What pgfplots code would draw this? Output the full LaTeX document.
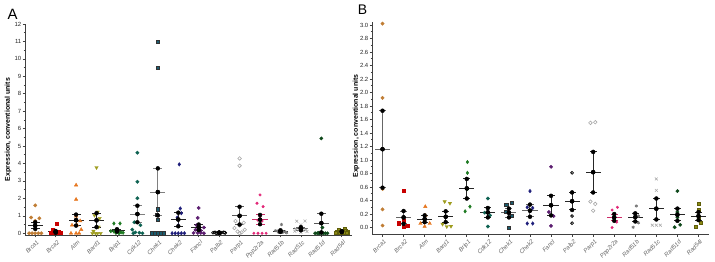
\documentclass[border=0pt]{standalone}
\usepackage{pgfplots}
\pgfplotsset{compat=1.18}
\usepackage{pgfplotstable}
\usepackage{fontspec}
\setmainfont{Liberation Sans}

% marker colours, one per gene
\definecolor{cBrcaI}{RGB}{192,125,52}
\definecolor{cBrcaII}{RGB}{200,0,0}
\definecolor{cAtm}{RGB}{230,118,30}
\definecolor{cBard}{RGB}{158,156,30}
\definecolor{cBrip}{RGB}{30,122,34}
\definecolor{cCdk}{RGB}{14,98,82}
\definecolor{cChekI}{RGB}{28,92,110}
\definecolor{cChekII}{RGB}{30,30,122}
\definecolor{cFanc}{RGB}{92,30,112}
\definecolor{cParp}{RGB}{168,168,168}
\definecolor{cPpp}{RGB}{226,40,120}
\definecolor{cRadB}{RGB}{120,120,120}
\definecolor{cRadC}{RGB}{172,172,172}
\definecolor{cRadD}{RGB}{14,72,26}
\definecolor{cRadL}{RGB}{140,138,20}
\definecolor{cRadLd}{RGB}{95,94,10}
\definecolor{cPink}{RGB}{205,45,105}

% mean and SEM per gene: x, mean, lower end, upper end
\pgfplotstableread{
x m lo hi
0 0.44 0.25 0.63
1 0.08 0.03 0.13
2 0.75 0.44 1.07
3 0.74 0.35 1.15
4 0.17 0.10 0.23
7 0.79 0.40 1.18
8 0.34 0.18 0.50
9 0.03 0.02 0.04
12 0.12 0.08 0.17
15 0.09 0.06 0.12
}\semAk
\pgfplotstableread{
x m lo hi
5 1.10 0.63 1.58
6 2.36 1.02 3.72
}\semAg
\pgfplotstableread{
x m lo hi
10 1.00 0.50 1.52
13 0.27 0.17 0.35
14 0.58 0.05 1.12
}\semAd
\pgfplotstableread{
x m lo hi
11 0.78 0.52 1.05
}\semAp

\pgfplotstableread{
x m lo hi
2 0.125 0.08 0.18
3 0.16 0.08 0.24
4 0.58 0.43 0.72
5 0.225 0.15 0.29
8 0.33 0.18 0.47
9 0.39 0.26 0.52
10 0.82 0.52 1.12
12 0.155 0.09 0.21
13 0.28 0.12 0.43
14 0.19 0.10 0.28
15 0.17 0.11 0.23
}\semBk
\pgfplotstableread{
x m lo hi
0 1.16 0.59 1.73
1 0.15 0.055 0.245
6 0.22 0.15 0.28
7 0.25 0.16 0.34
}\semBg
\pgfplotstableread{
x m lo hi
11 0.15 0.10 0.20
}\semBp

% mean line, SEM caps and SEM stem for every row of a table
\newcommand{\meansem}[4]{% table, colour, mean half-width, cap half-width
  \addplot[only marks, mark=none, forget plot,
    error bars/.cd, x dir=both, x fixed=#3, error mark=none,
    error bar style={draw=#2, line width=1pt}] table[x=x, y=m] {#1};
  \addplot[only marks, mark=none, forget plot,
    error bars/.cd, x dir=both, x fixed=#4, error mark=none,
    error bar style={draw=#2, line width=1pt}] table[x=x, y=hi] {#1};
  \addplot[only marks, mark=none, forget plot,
    error bars/.cd, x dir=both, x fixed=#4, error mark=none,
    error bar style={draw=#2, line width=1pt}] table[x=x, y=lo] {#1};
  \addplot[only marks, mark=none, forget plot,
    error bars/.cd, y dir=both, y explicit, error mark=none,
    error bar style={draw=#2, line width=1pt}]
    table[x=x, y=m, y error plus expr=\thisrow{hi}-\thisrow{m},
          y error minus expr=\thisrow{m}-\thisrow{lo}] {#1};
}

\pgfplotsset{
  dotplot/.style={
    scale only axis,
    anchor=south west,
    xmin=-0.5, xmax=15.5,
    axis lines*=left,
    axis line style={-, draw=black!75, line width=0.9pt},
    tick align=outside,
    xtick={0,...,15},
    xticklabels={Brca1,Brca2,Atm,Bard1,Brip1,Cdk12,Chek1,Chek2,Fancl,Palb2,Parp1,Ppp2r2a,Rad51b,Rad51c,Rad51d,Rad54l},
    x tick label style={rotate=45, anchor=north east, yshift=-1.5pt,
      font=\fontsize{6}{7}\selectfont\itshape, text=black!60, inner sep=0.8pt},
    y tick label style={font=\fontsize{6}{7}\selectfont, text=black!85, inner sep=1pt},
    major tick length=2.5pt, minor tick length=1.5pt,
    every tick/.style={black!75, line width=0.6pt},
    minor y tick num=1,
    ylabel={Expression, conventional units},
    ylabel style={font=\fontsize{7}{8}\selectfont\bfseries, anchor=center},
    /pgf/number format/assume math mode=true,
    clip=false,
  },
  gBrcaI/.style={only marks, mark=*, mark size=1.7pt, color=cBrcaI},
  gBrcaII/.style={only marks, mark=square*, mark size=1.6pt, color=cBrcaII},
  gAtm/.style={only marks, mark=triangle*, mark size=2pt, color=cAtm},
  gBard/.style={only marks, mark=triangle*, mark size=2pt, color=cBard, mark options={rotate=180}},
  gBrip/.style={only marks, mark=diamond*, mark size=1.8pt, color=cBrip},
  gCdk/.style={only marks, mark=*, mark size=1.7pt, color=cCdk},
  gChekI/.style={only marks, mark=square*, mark size=1.6pt, draw=black!80, fill=cChekI},
  gChekII/.style={only marks, mark=diamond*, mark size=1.8pt, color=cChekII},
  gFanc/.style={only marks, mark=*, mark size=1.7pt, color=cFanc},
  gPalb/.style={only marks, mark=*, mark size=1.4pt, mark options={draw=black, fill=white, line width=0.8pt}},
  gParp/.style={only marks, mark=o, mark size=1.8pt, color=cParp, mark options={line width=0.6pt}},
  gPpp/.style={only marks, mark=*, mark size=1.3pt, color=cPpp},
  gRadB/.style={only marks, mark=asterisk, mark size=1.6pt, color=cRadB, mark options={line width=0.7pt}},
  gRadC/.style={only marks, mark=x, mark size=2pt, color=cRadC, mark options={line width=0.6pt}},
  gRadD/.style={only marks, mark=*, mark size=1.7pt, color=cRadD},
  gRadL/.style={only marks, mark=square*, mark size=1.7pt, draw=cRadLd, fill=cRadL},
}

\begin{document}
\begin{tikzpicture}
\path[use as bounding box] (0,0) rectangle (715bp,262bp);

\node[font=\fontsize{15}{15}\selectfont] at (12.5bp,248bp) {A};
\node[font=\fontsize{14}{14}\selectfont] at (362.5bp,252bp) {B};

% ---------- panel A ----------
\begin{axis}[dotplot, at={(25bp,27bp)}, width=327bp, height=211bp,
  ymin=-0.1, ymax=12, ytick={0,...,12},
  ylabel style={at={(axis description cs:-0.052,0.5)}}]
\addplot[gBrcaI] coordinates {(0,1.6) (-0.2,0.9) (0.2,0.86) (0,0.71) (0,0.45)
  (-0.3,0) (-0.15,0) (0,0) (0.15,0) (0.3,0)};
\addplot[gBrcaII] coordinates {(1.05,0.53) (0.85,0.17) (0.75,0.02) (0.85,0.02) (0.95,0.02)
  (1.05,0.02) (1.15,0.02) (1.25,0.02) (1.0,0.05) (1.15,0.06)};
\addplot[gAtm] coordinates {(2,2.76) (2,1.94) (2,0.98) (2.2,0.71) (1.8,0.46) (2.05,0.46)
  (2.25,0.21) (1.75,0) (2,0) (2.15,0)};
\addplot[gBard] coordinates {(3,3.77) (3.05,1.22) (2.9,1.03) (3.15,0.86) (3.1,0.36)
  (2.85,0.12) (2.8,0) (2.95,0) (3.05,0) (3.2,0)};
\addplot[gBrip] coordinates {(3.85,0.56) (4.15,0.56) (4,0.21) (3.7,0.12) (3.85,0.1)
  (4.05,0.08) (4.2,0.05) (4.3,0.03) (3.95,0.02) (4.1,0)};
\addplot[gCdk] coordinates {(5,4.62) (5,2.95) (5,2.01) (4.85,0.63) (5.15,0.46)
  (4.75,0.21) (4.9,0.05) (5.1,0.03) (5.25,0) (4.8,0)};
\addplot[gChekI] coordinates {(6,11.0) (6,9.48) (6,1.38) (5.95,1.07) (6,0.79)
  (5.7,0) (5.85,0) (6,0) (6.15,0) (6.3,0)};
\addplot[gChekII] coordinates {(7.05,3.95) (7.1,1.42) (7.15,1.15) (6.95,0.9) (7,0.45)
  (6.7,0) (6.85,0) (7,0) (7.15,0) (7.3,0)};
\addplot[gFanc] coordinates {(8,1.45) (7.95,0.88) (7.9,0.46) (8.25,0.33) (7.85,0.2)
  (8.1,0.15) (7.75,0.02) (7.95,0.02) (8.1,0.02) (8.25,0)};
\addplot[gPalb] coordinates {(8.7,0.03) (8.8,0.05) (8.9,0.02) (9,0.06) (9.1,0.03)
  (9.2,0.05) (9.3,0.02) (8.85,0) (9.05,0) (9.25,0.04)};
\addplot[gParp] coordinates {(10,4.29) (10,3.87) (9.8,0.7) (10.2,0.6) (10,0.45)
  (9.75,0.3) (10.25,0.2) (9.9,0.1) (10.1,0.05) (10,0)};
\addplot[gPpp] coordinates {(11,2.2) (10.85,1.72) (11.15,1.53) (11,0.95) (10.9,0.75)
  (11.1,0.7) (10.7,0) (10.9,0) (11.1,0) (11.3,0)};
\addplot[gRadB] coordinates {(12.05,0.5) (11.75,0.15) (11.85,0.12) (11.95,0.1) (12.05,0.1)
  (12.15,0.08) (12.25,0.07) (11.9,0.05) (12.1,0.05) (12.3,0.03)};
\addplot[gRadC] coordinates {(12.8,0.69) (13.2,0.7) (13,0.48) (12.75,0.25) (13.25,0.2)
  (12.9,0.18) (13.1,0.15) (12.7,0.12) (13.3,0.1) (13,0.05)};
\addplot[gRadD] coordinates {(14,5.44) (14.05,0.33) (13.7,0) (13.8,0) (13.9,0)
  (14,0) (14.1,0) (14.2,0) (14.3,0) (13.85,0.02)};
\addplot[gRadL] coordinates {(15.15,0.24) (14.85,0.17) (15,0.12) (15.2,0.12) (14.75,0.08)
  (15.3,0.06) (14.9,0.05) (15.1,0.04) (14.7,0.03) (15.25,0.02)};
\meansem{\semAk}{black!85}{0.37}{0.22}
\meansem{\semAg}{black!50}{0.37}{0.22}
\meansem{\semAd}{black!65}{0.37}{0.22}
\meansem{\semAp}{cPink}{0.37}{0.22}
\end{axis}

% ---------- panel B ----------
\begin{axis}[dotplot, at={(372bp,27.7bp)}, width=337bp, height=212.7bp,
  ymin=-0.1, ymax=3.05,
  ytick={0,0.2,0.4,0.6,0.8,1.0,1.2,1.4,1.6,1.8,2.0,2.2,2.4,2.6,2.8,3.0},
  yticklabel style={/pgf/number format/fixed, /pgf/number format/fixed zerofill,
    /pgf/number format/precision=1},
  ylabel style={at={(axis description cs:-0.0475,0.509)}}]
\addplot[gBrcaI] coordinates {(0,3.02) (0,1.92) (0,0.57) (0,0.27) (0,0.03)};
\addplot[gBrcaII] coordinates {(1,0.54) (1,0.1) (0.78,0.065) (1.2,0.03) (1,0.015)};
\addplot[gAtm] coordinates {(2.03,0.31) (2.03,0.18) (1.8,0.06) (2.24,0.06) (2,0.015)};
\addplot[gBard] coordinates {(2.95,0.385) (3.2,0.36) (2.85,0.05) (3.05,0.015) (3.25,0.02)};
\addplot[gBrip] coordinates {(4.03,0.97) (4.03,0.81) (4.03,0.57) (3.92,0.24) (4.15,0.31)};
\addplot[gCdk] coordinates {(5,0.43) (5,0.28) (4.85,0.22) (5.1,0.18) (5,0.015)};
\addplot[gChekI] coordinates {(6.13,0.37) (5.87,0.34) (5.87,0.23) (6.13,0.17) (6,0)};
\addplot[gChekII] coordinates {(7,0.54) (6.87,0.30) (7.13,0.29) (6.87,0.06) (7.13,0.06)};
\addplot[gFanc] coordinates {(8,0.9) (8,0.33) (7.9,0.23) (8.12,0.17) (8,0.025)};
\addplot[gPalb] coordinates {(9,0.81) (9,0.52) (9,0.38) (9,0.17) (9,0.065)};
\addplot[gParp] coordinates {(9.87,1.55) (10.1,1.56) (9.87,0.385) (10.1,0.35) (10,0.25)};
\addplot[gPpp] coordinates {(11.15,0.3) (10.9,0.26) (11,0.14) (11.12,0.08) (10.9,0)};
\addplot[gRadB] coordinates {(12.05,0.32) (11.95,0.21) (12.15,0.17) (12.15,0.07) (11.9,0.005)};
\addplot[gRadC] coordinates {(13,0.72) (13,0.55) (12.81,0.035) (13,0.035) (13.19,0.035)};
\addplot[gRadD] coordinates {(14,0.54) (14,0.23) (14,0.15) (14.13,0.04) (13.87,0.005)};
\addplot[gRadL] coordinates {(15,0.35) (15,0.26) (15,0.15) (15.12,0.07) (14.88,0.015)};
\meansem{\semBk}{black!85}{0.36}{0.17}
\meansem{\semBg}{black!60}{0.36}{0.17}
\meansem{\semBp}{cPink}{0.36}{0.17}
\end{axis}
\end{tikzpicture}
\end{document}
